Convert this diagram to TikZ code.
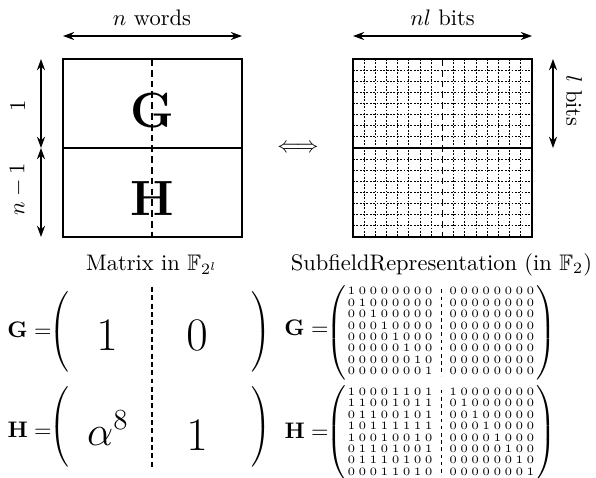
\documentclass[tikz,border=0pt]{standalone}
\usepackage{fix-cm}
\usepackage{amsmath,amssymb}
\usetikzlibrary{arrows.meta,fit}
\newcommand{\tinymat}[1]{\left(\vcenter{\hbox{\tiny$\renewcommand\arraystretch{0.85}\setlength\arraycolsep{0.76pt}\begin{array}{*{8}{c}@{\hspace{7.4pt}}*{8}{c}}#1\end{array}$}}\right)}
\newcommand{\bigparL}{\left(\vcenter{\hbox{\vrule height 18pt depth 18pt width 0pt}}\right.}
\newcommand{\bigparR}{\left.\vcenter{\hbox{\vrule height 18pt depth 18pt width 0pt}}\right)}
\tikzset{
 box/.style={draw, line width=0.9pt, inner sep=0pt},
 gridline/.style={line width=0.45pt, dash pattern=on 0.8pt off 0.7pt},
 middash/.style={line width=0.5pt, dash pattern=on 3pt off 1.8pt},
 dimarrow/.style={{Stealth[length=5pt,width=3.6pt]}-{Stealth[length=5pt,width=3.6pt]}, line width=0.5pt},
 biglet/.style={font=\fontsize{22}{26}\selectfont, inner sep=0pt},
 bignum/.style={font=\huge, inner sep=0pt, anchor=base},
 lbl/.style={inner sep=0pt, anchor=base},
 paren/.style={inner sep=0pt},
 tinydash/.style={line width=0.4pt, dash pattern=on 1.6pt off 1.6pt, shorten <=2pt, shorten >=2pt}
}
\begin{document}
\begin{tikzpicture}[x=0.4447pt,y=-0.4447pt]
\useasboundingbox (0,0) rectangle (596,478);
% ---- left boxes
\coordinate (gA) at (63,59);
\coordinate (gB) at (242,148);
\coordinate (hA) at (63,148);
\coordinate (hB) at (242,237);
\node[box, fit=(gA)(gB)] (boxG) {};
\node[box, fit=(hA)(hB)] (boxH) {};
\coordinate (ldT) at (152,59);
\coordinate (ldB) at (152,237);
\draw[middash] (ldT) -- (ldB);
\node[biglet] (letG) at (152,110.5) {$\mathbf{G}$};
\node[biglet] (letH) at (152,198.5) {$\mathbf{H}$};
% dims left
\coordinate (tl1) at (63,36);
\coordinate (tl2) at (242,36);
\draw[dimarrow] (tl1) -- (tl2);
\node[lbl] (nwords) at (152,26) {$n$ words};
\coordinate (v1) at (41,59);
\coordinate (v2) at (41,148);
\coordinate (v3) at (41,237);
\draw[dimarrow] (v1) -- (v2);
\draw[dimarrow] (v2) -- (v3);
\node[rotate=90, inner sep=0pt] (lab1) at (18,106) {$1$};
\node[rotate=90, inner sep=0pt] (labn) at (18,189) {$n-1$};
% equivalence
\node[inner sep=0pt] (equiv) at (298,148) {$\Longleftrightarrow$};
% ---- right grid
\foreach \i in {1,...,7,9,10,...,15}{
  \draw[gridline] ({353+\i*11.1875},59) -- ({353+\i*11.1875},237);
  \draw[gridline] (353,{59+\i*11.125}) -- (532,{59+\i*11.125});
}
\coordinate (rA) at (353,59);
\coordinate (rB) at (532,237);
\node[box, fit=(rA)(rB)] (boxR) {};
\coordinate (rmL) at (353,148);
\coordinate (rmR) at (532,148);
\draw[line width=0.9pt] (rmL) -- (rmR);
\coordinate (rdT) at (442.5,59);
\coordinate (rdB) at (442.5,237);
\draw[middash] (rdT) -- (rdB);
\coordinate (tr1) at (353,36);
\coordinate (tr2) at (532,36);
\draw[dimarrow] (tr1) -- (tr2);
\node[lbl] (nlbits) at (442.5,26) {$nl$ bits};
\coordinate (w1) at (553,59);
\coordinate (w2) at (553,148);
\draw[dimarrow] (w1) -- (w2);
\node[rotate=-90, inner sep=0pt] (lbits) at (574,101) {$l$ bits};
% ---- captions
\node[lbl] (capL) at (152,270) {Matrix in $\mathbb{F}_{2^l}$};
\node[lbl] (capR) at (441.5,270) {SubfieldRepresentation (in $\mathbb{F}_2$)};
% ---- lower left matrices
\node[lbl, anchor=base east] (eqG) at (52,337) {$\mathbf{G} =$};
\node[paren] (pGL) at (61,332) {$\bigparL$};
\node[paren] (pGR) at (260,332) {$\bigparR$};
\node[bignum] (g1) at (107,350) {$1$};
\node[bignum] (g0) at (197,350) {$0$};
\node[lbl, anchor=base east] (eqH) at (52,437) {$\mathbf{H} =$};
\node[paren] (pHL) at (61,427) {$\bigparL$};
\node[paren] (pHR) at (260,427) {$\bigparR$};
\node[bignum, font=\fontsize{18.5}{22}\selectfont] (ha) at (108,445) {$\alpha^8$};
\node[bignum] (h1) at (197,450) {$1$};
\coordinate (sT) at (152,287);
\coordinate (sB) at (152,470);
\draw[middash, dash pattern=on 2.2pt off 1.5pt] (sT) -- (sB);
% ---- lower right tiny matrices
\node[lbl, anchor=base east] (teqG) at (329,335) {$\mathbf{G} =$};
\node[paren] (gm) at (441,332.5) {$\tinymat{
1&0&0&0&0&0&0&0&0&0&0&0&0&0&0&0\\
0&1&0&0&0&0&0&0&0&0&0&0&0&0&0&0\\
0&0&1&0&0&0&0&0&0&0&0&0&0&0&0&0\\
0&0&0&1&0&0&0&0&0&0&0&0&0&0&0&0\\
0&0&0&0&1&0&0&0&0&0&0&0&0&0&0&0\\
0&0&0&0&0&1&0&0&0&0&0&0&0&0&0&0\\
0&0&0&0&0&0&1&0&0&0&0&0&0&0&0&0\\
0&0&0&0&0&0&0&1&0&0&0&0&0&0&0&0}$};
\draw[tinydash] (gm.north) -- (gm.south);
\node[lbl, anchor=base east] (teqH) at (329,438) {$\mathbf{H} =$};
\node[paren] (hm) at (441,433) {$\tinymat{
1&0&0&0&1&1&0&1&1&0&0&0&0&0&0&0\\
1&1&0&0&1&0&1&1&0&1&0&0&0&0&0&0\\
0&1&1&0&0&1&0&1&0&0&1&0&0&0&0&0\\
1&0&1&1&1&1&1&1&0&0&0&1&0&0&0&0\\
1&0&0&1&0&0&1&0&0&0&0&0&1&0&0&0\\
0&1&1&0&1&0&0&1&0&0&0&0&0&1&0&0\\
0&1&1&1&0&1&0&0&0&0&0&0&0&0&1&0\\
0&0&0&1&1&0&1&0&0&0&0&0&0&0&0&1}$};
\draw[tinydash] (hm.north) -- (hm.south);
\end{tikzpicture}
\end{document}
